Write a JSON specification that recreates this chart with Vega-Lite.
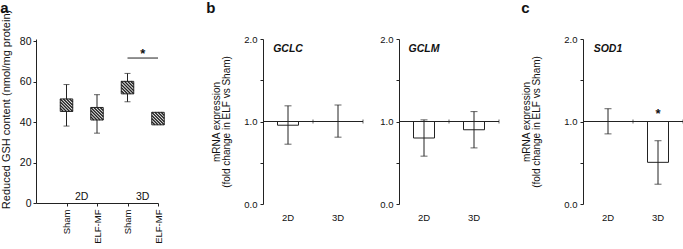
{
  "$schema": "https://vega.github.io/schema/vega-lite/v6.json",
  "padding": {"left": 0, "top": 0, "right": 0, "bottom": 0},
  "config": {
    "font": "Liberation Sans",
    "view": {"stroke": null},
    "axis": {"grid": false, "domainColor": "#222", "tickColor": "#222", "labelColor": "#111", "titleColor": "#111", "titleFontWeight": "normal"},
    "title": {"color": "#111"}
  },
  "datasets": {
    "gsh": [
      {"index": 1, "condition": "Sham", "dim": "2D", "mean": 48.3, "lo": 38, "hi": 58.5},
      {"index": 2, "condition": "ELF-MF", "dim": "2D", "mean": 44.1, "lo": 34.5, "hi": 53.5},
      {"index": 3, "condition": "Sham", "dim": "3D", "mean": 57, "lo": 50, "hi": 64},
      {"index": 4, "condition": "ELF-MF", "dim": "3D", "mean": 41.7, "lo": 41.2, "hi": 42.2}
    ],
    "mrna": [
      {"gene": "GCLC", "dim": "2D", "mean": 0.955, "lo": 0.725, "hi": 1.19, "sig": ""},
      {"gene": "GCLC", "dim": "3D", "mean": 1.0, "lo": 0.81, "hi": 1.2, "sig": ""},
      {"gene": "GCLM", "dim": "2D", "mean": 0.8, "lo": 0.58, "hi": 1.02, "sig": ""},
      {"gene": "GCLM", "dim": "3D", "mean": 0.9, "lo": 0.68, "hi": 1.12, "sig": ""},
      {"gene": "SOD1", "dim": "2D", "mean": 1.0, "lo": 0.85, "hi": 1.155, "sig": ""},
      {"gene": "SOD1", "dim": "3D", "mean": 0.505, "lo": 0.24, "hi": 0.767, "sig": "*"}
    ]
  },
  "bounds": "flush",
  "spacing": 36,
  "hconcat": [
    {
      "width": 122, "height": 164,
      "title": {"text": "a", "anchor": "start", "frame": "bounds", "fontSize": 15, "fontWeight": "bold", "offset": -6.5},
      "data": {"name": "gsh"},
      "layer": [
        {
          "mark": {"type": "rule", "color": "#222", "strokeWidth": 1},
          "encoding": {
            "x": {"field": "index", "type": "quantitative", "scale": {"domain": [0, 4]},
              "axis": {"values": [1, 2, 3, 4], "labelExpr": "datum.value % 2 == 1 ? 'Sham' : 'ELF-MF'", "labelAngle": -90, "labelFontSize": 9.5, "tickSize": 3, "labelPadding": 3, "title": null, "labelBound": false, "labelOverlap": false, "labelFlush": false}},
            "y": {"field": "lo", "type": "quantitative", "scale": {"domain": [0, 81], "nice": false},
              "axis": {"values": [0, 20, 40, 60, 80], "title": "Reduced GSH content (nmol/mg protein)", "titleFontSize": 11, "titlePadding": 8, "titleY": 70, "labelFontSize": 10.5, "tickSize": 3, "labelPadding": 2}},
            "y2": {"field": "hi"}
          }
        },
        {
          "mark": {"type": "tick", "orient": "horizontal", "size": 6, "thickness": 1, "color": "#222"},
          "encoding": {"x": {"field": "index", "type": "quantitative"}, "y": {"field": "lo", "type": "quantitative"}}
        },
        {
          "mark": {"type": "tick", "orient": "horizontal", "size": 6, "thickness": 1, "color": "#222"},
          "encoding": {"x": {"field": "index", "type": "quantitative"}, "y": {"field": "hi", "type": "quantitative"}}
        },
        {
          "mark": {"type": "point", "shape": "square", "size": 156, "filled": true, "fill": "white", "stroke": "#222", "strokeWidth": 1, "opacity": 1},
          "encoding": {"x": {"field": "index", "type": "quantitative"}, "y": {"field": "mean", "type": "quantitative"}}
        },
        {
          "mark": {"type": "point", "shape": "M-1,0.5L-0.5,1M-1,0L0,1M-1,-0.5L0.5,1M-1,-1L1,1M-0.5,-1L1,0.5M0,-1L1,0M0.5,-1L1,-0.5", "size": 156, "filled": false, "color": "#222", "strokeWidth": 1.4, "opacity": 1},
          "encoding": {"x": {"field": "index", "type": "quantitative"}, "y": {"field": "mean", "type": "quantitative"}}
        },
        {
          "transform": [{"filter": "datum.dim === '3D'"}, {"aggregate": [{"op": "min", "field": "index", "as": "x1"}, {"op": "max", "field": "index", "as": "x2"}]}],
          "mark": {"type": "rule", "color": "#222", "strokeWidth": 1},
          "encoding": {"x": {"field": "x1", "type": "quantitative"}, "x2": {"field": "x2"}, "y": {"datum": 71.6}}
        },
        {
          "transform": [{"filter": "datum.dim === '3D'"}, {"aggregate": [{"op": "mean", "field": "index", "as": "xm"}]}],
          "mark": {"type": "text", "text": "*", "fontSize": 13, "fontWeight": "bold", "baseline": "middle", "color": "#111"},
          "encoding": {"x": {"field": "xm", "type": "quantitative"}, "y": {"datum": 73.5}}
        },
        {
          "transform": [{"aggregate": [{"op": "mean", "field": "index", "as": "xm"}], "groupby": ["dim"]}],
          "mark": {"type": "text", "fontSize": 10.5, "baseline": "middle", "color": "#111"},
          "encoding": {"x": {"field": "xm", "type": "quantitative"}, "y": {"datum": 3.1}, "text": {"field": "dim"}}
        }
      ]
    },
    {
      "width": 33, "height": 165,
      "data": {"name": "mrna"},
      "mark": {"type": "point", "opacity": 0},
      "encoding": {}
    },
    {
      "width": 100, "height": 165,
      "title": {"text": "b", "anchor": "start", "frame": "bounds", "fontSize": 15, "fontWeight": "bold", "offset": 18, "dx": -5},
      "data": {"name": "mrna"},
      "transform": [{"filter": "datum.gene === 'GCLC'"}],
      "layer": [
        {
          "mark": {"type": "bar", "fill": "white", "stroke": "#222", "strokeWidth": 1, "width": {"band": 0.42}},
          "encoding": {
            "x": {"field": "dim", "type": "nominal", "scale": {"type": "band", "paddingInner": 0, "paddingOuter": 0},
              "axis": {"title": null, "domain": false, "ticks": false, "labelAngle": 0, "labelFontSize": 9.5, "labelPadding": 8}},
            "y": {"field": "mean", "type": "quantitative", "scale": {"domain": [0, 2], "nice": false},
              "axis": {"values": [0, 0.5, 1, 1.5, 2], "labelExpr": "datum.value % 1 === 0 ? format(datum.value, '.1f') : ''", "title": ["mRNA expression", "(fold change in ELF vs Sham)"], "titleFontSize": 10, "titleLineHeight": 10.5, "titlePadding": 12, "labelFontSize": 9.5, "tickSize": 3, "labelPadding": 3}},
            "y2": {"datum": 1}
          }
        },
        {"mark": {"type": "rule", "color": "#222", "strokeWidth": 1}, "encoding": {"y": {"datum": 1}}},
        {
          "mark": {"type": "tick", "orient": "vertical", "size": 4, "thickness": 1, "color": "#222"},
          "encoding": {"x": {"field": "dim", "type": "nominal", "bandPosition": 1}, "y": {"datum": 1}}
        },
        {
          "mark": {"type": "rule", "color": "#222", "strokeWidth": 1},
          "encoding": {"x": {"field": "dim", "type": "nominal"}, "y": {"field": "lo", "type": "quantitative"}, "y2": {"field": "hi"}}
        },
        {
          "mark": {"type": "tick", "orient": "horizontal", "size": 7, "thickness": 1, "color": "#222"},
          "encoding": {"x": {"field": "dim", "type": "nominal"}, "y": {"field": "lo", "type": "quantitative"}}
        },
        {
          "mark": {"type": "tick", "orient": "horizontal", "size": 7, "thickness": 1, "color": "#222"},
          "encoding": {"x": {"field": "dim", "type": "nominal"}, "y": {"field": "hi", "type": "quantitative"}}
        },
        {
          "transform": [{"filter": "datum.dim === '2D'"}],
          "mark": {"type": "text", "fontSize": 10.5, "fontStyle": "italic", "fontWeight": "bold", "baseline": "middle", "color": "#111"},
          "encoding": {"x": {"field": "dim", "type": "nominal"}, "y": {"datum": 1.88}, "text": {"field": "gene"}}
        }
      ]
    },
    {
      "width": 100, "height": 165,
      "data": {"name": "mrna"},
      "transform": [{"filter": "datum.gene === 'GCLM'"}],
      "layer": [
        {
          "mark": {"type": "bar", "fill": "white", "stroke": "#222", "strokeWidth": 1, "width": {"band": 0.42}},
          "encoding": {
            "x": {"field": "dim", "type": "nominal", "scale": {"type": "band", "paddingInner": 0, "paddingOuter": 0},
              "axis": {"title": null, "domain": false, "ticks": false, "labelAngle": 0, "labelFontSize": 9.5, "labelPadding": 8}},
            "y": {"field": "mean", "type": "quantitative", "scale": {"domain": [0, 2], "nice": false},
              "axis": {"values": [0, 0.5, 1, 1.5, 2], "labelExpr": "datum.value % 1 === 0 ? format(datum.value, '.1f') : ''", "title": null, "labelFontSize": 9.5, "tickSize": 3, "labelPadding": 3}},
            "y2": {"datum": 1}
          }
        },
        {"mark": {"type": "rule", "color": "#222", "strokeWidth": 1}, "encoding": {"y": {"datum": 1}}},
        {
          "mark": {"type": "tick", "orient": "vertical", "size": 4, "thickness": 1, "color": "#222"},
          "encoding": {"x": {"field": "dim", "type": "nominal", "bandPosition": 1}, "y": {"datum": 1}}
        },
        {
          "mark": {"type": "rule", "color": "#222", "strokeWidth": 1},
          "encoding": {"x": {"field": "dim", "type": "nominal"}, "y": {"field": "lo", "type": "quantitative"}, "y2": {"field": "hi"}}
        },
        {
          "mark": {"type": "tick", "orient": "horizontal", "size": 7, "thickness": 1, "color": "#222"},
          "encoding": {"x": {"field": "dim", "type": "nominal"}, "y": {"field": "lo", "type": "quantitative"}}
        },
        {
          "mark": {"type": "tick", "orient": "horizontal", "size": 7, "thickness": 1, "color": "#222"},
          "encoding": {"x": {"field": "dim", "type": "nominal"}, "y": {"field": "hi", "type": "quantitative"}}
        },
        {
          "transform": [{"filter": "datum.dim === '2D'"}],
          "mark": {"type": "text", "fontSize": 10.5, "fontStyle": "italic", "fontWeight": "bold", "baseline": "middle", "color": "#111"},
          "encoding": {"x": {"field": "dim", "type": "nominal"}, "y": {"datum": 1.88}, "text": {"field": "gene"}}
        }
      ]
    },
    {
      "width": 12, "height": 165,
      "data": {"name": "mrna"},
      "mark": {"type": "point", "opacity": 0},
      "encoding": {}
    },
    {
      "width": 100, "height": 165,
      "title": {"text": "c", "anchor": "start", "frame": "bounds", "fontSize": 15, "fontWeight": "bold", "offset": 18, "dx": 0},
      "data": {"name": "mrna"},
      "transform": [{"filter": "datum.gene === 'SOD1'"}],
      "layer": [
        {
          "mark": {"type": "bar", "fill": "white", "stroke": "#222", "strokeWidth": 1, "width": {"band": 0.42}},
          "encoding": {
            "x": {"field": "dim", "type": "nominal", "scale": {"type": "band", "paddingInner": 0, "paddingOuter": 0},
              "axis": {"title": null, "domain": false, "ticks": false, "labelAngle": 0, "labelFontSize": 9.5, "labelPadding": 8}},
            "y": {"field": "mean", "type": "quantitative", "scale": {"domain": [0, 2], "nice": false},
              "axis": {"values": [0, 0.5, 1, 1.5, 2], "labelExpr": "datum.value % 1 === 0 ? format(datum.value, '.1f') : ''", "title": ["mRNA expression", "(fold change in ELF vs Sham)"], "titleFontSize": 10, "titleLineHeight": 10.5, "titlePadding": 22, "labelFontSize": 9.5, "tickSize": 3, "labelPadding": 3}},
            "y2": {"datum": 1}
          }
        },
        {"mark": {"type": "rule", "color": "#222", "strokeWidth": 1}, "encoding": {"y": {"datum": 1}}},
        {
          "mark": {"type": "tick", "orient": "vertical", "size": 4, "thickness": 1, "color": "#222"},
          "encoding": {"x": {"field": "dim", "type": "nominal", "bandPosition": 1}, "y": {"datum": 1}}
        },
        {
          "mark": {"type": "rule", "color": "#222", "strokeWidth": 1},
          "encoding": {"x": {"field": "dim", "type": "nominal"}, "y": {"field": "lo", "type": "quantitative"}, "y2": {"field": "hi"}}
        },
        {
          "mark": {"type": "tick", "orient": "horizontal", "size": 7, "thickness": 1, "color": "#222"},
          "encoding": {"x": {"field": "dim", "type": "nominal"}, "y": {"field": "lo", "type": "quantitative"}}
        },
        {
          "mark": {"type": "tick", "orient": "horizontal", "size": 7, "thickness": 1, "color": "#222"},
          "encoding": {"x": {"field": "dim", "type": "nominal"}, "y": {"field": "hi", "type": "quantitative"}}
        },
        {
          "transform": [{"filter": "datum.dim === '2D'"}],
          "mark": {"type": "text", "fontSize": 10.5, "fontStyle": "italic", "fontWeight": "bold", "baseline": "middle", "color": "#111"},
          "encoding": {"x": {"field": "dim", "type": "nominal"}, "y": {"datum": 1.88}, "text": {"field": "gene"}}
        },
        {
          "mark": {"type": "text", "fontSize": 13, "fontWeight": "bold", "baseline": "middle", "color": "#111"},
          "encoding": {"x": {"field": "dim", "type": "nominal"}, "y": {"datum": 1.09}, "text": {"field": "sig"}}
        }
      ]
    }
  ]
}
